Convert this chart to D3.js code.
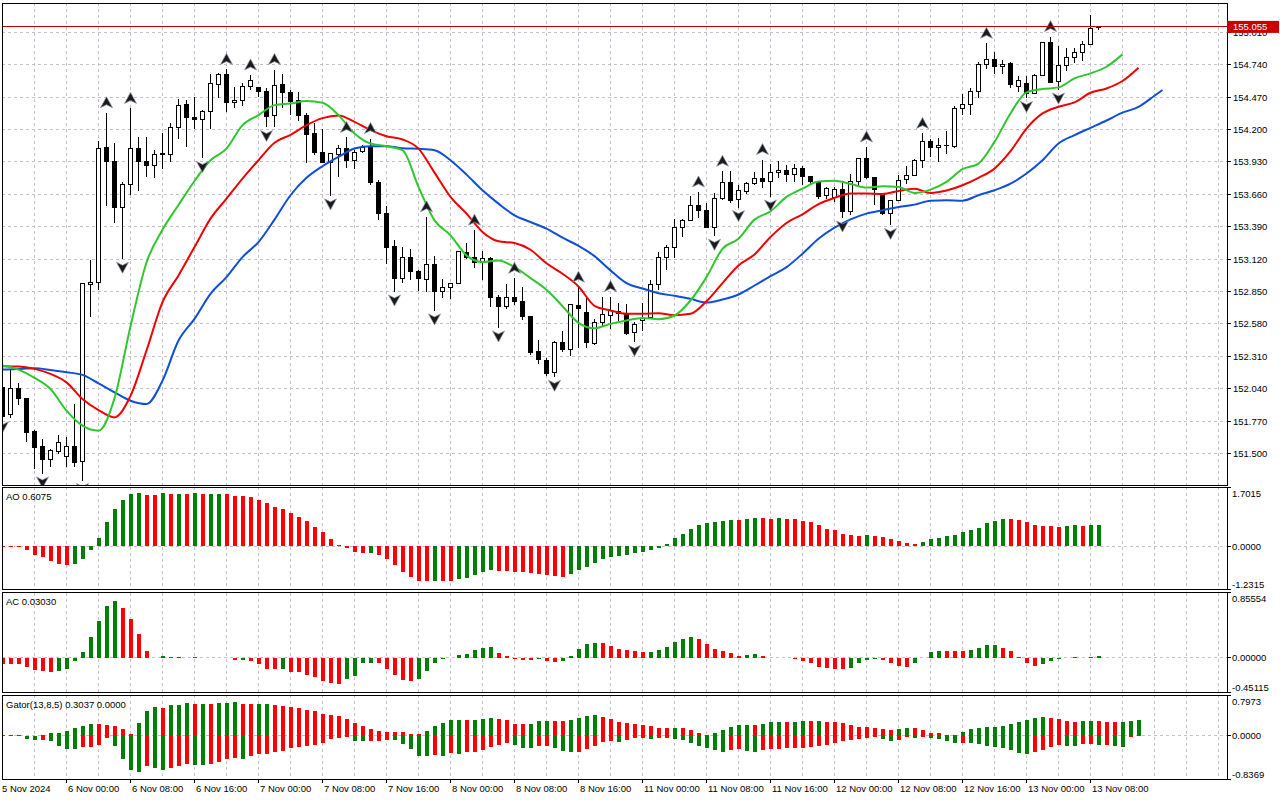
<!DOCTYPE html>
<html>
<head>
<meta charset="utf-8">
<script src="https://cdn.jsdelivr.net/npm/d3@7"></script>
<style>
  html, body { margin: 0; padding: 0; background: #fff; }
  svg { display: block; font-family: "Liberation Sans", Arial, sans-serif; font-size: 9.5px; }
</style>
</head>
<body>
<svg id="chart" width="1280" height="800"></svg>
<script>
// H1 candles, bar index 0 = 5 Nov 16:00
const openVals = [
  152.048,151.823,152.040,151.956,151.684,151.559,151.448,151.520,151.478,151.561,
  151.437,152.907,152.924,154.050,153.931,153.550,153.742,154.042,153.936,153.897,
  153.997,153.992,154.217,154.412,154.301,154.284,154.348,154.576,154.662,154.423,
  154.440,154.562,154.551,154.520,154.314,154.579,154.509,154.440,154.320,154.167,
  154.009,153.922,153.995,154.042,153.945,154.014,154.056,153.758,153.500,153.222,
  152.957,153.133,153.019,152.949,153.074,152.852,152.882,152.916,153.174,153.133,
  153.091,153.124,152.804,152.729,152.799,152.763,152.643,152.351,152.276,152.171,
  152.422,152.366,152.733,152.672,152.413,152.589,152.650,152.683,152.669,152.505,
  152.608,152.636,152.906,153.137,153.215,153.382,153.443,153.563,153.526,153.387,
  153.629,153.757,153.616,153.685,153.749,153.791,153.763,153.841,153.860,153.824,
  153.874,153.805,153.763,153.646,153.630,153.702,153.513,153.763,153.958,153.799,
  153.657,153.499,153.605,153.783,153.819,153.939,154.103,154.047,154.069,154.056,
  154.375,154.409,154.515,154.743,154.787,154.723,154.751,154.562,154.584,154.501,
  154.654,154.926,154.598,154.732,154.801,154.843,154.910,155.049
];
const highVals = [
  152.081,152.193,152.087,151.962,151.692,151.623,151.539,151.651,151.637,151.909,
  152.920,153.116,154.106,154.340,154.084,153.764,154.376,154.134,154.134,154.028,
  154.175,154.251,154.451,154.445,154.473,154.362,154.662,154.673,154.701,154.551,
  154.584,154.654,154.557,154.543,154.700,154.660,154.529,154.515,154.334,154.251,
  154.203,154.006,154.070,154.134,154.028,154.075,154.125,153.778,153.561,153.283,
  153.222,153.208,153.032,153.472,153.144,152.957,152.921,153.186,153.255,153.361,
  153.186,153.138,152.818,152.916,152.960,152.888,152.643,152.449,152.300,152.436,
  152.525,152.747,152.886,152.803,152.622,152.803,152.808,152.753,152.747,152.594,
  152.756,152.942,153.179,153.234,153.457,153.457,153.646,153.680,153.588,153.671,
  153.852,153.852,153.735,153.763,153.847,153.949,153.916,153.938,153.902,153.916,
  153.894,153.810,153.771,153.721,153.721,153.763,153.833,153.964,154.055,153.805,
  153.666,153.610,153.819,153.894,153.952,154.167,154.117,154.131,154.186,154.398,
  154.492,154.548,154.765,154.918,154.849,154.779,154.765,154.648,154.645,154.659,
  154.932,154.974,154.896,154.882,154.882,154.938,155.155,155.066
];
const lowVals = [
  151.790,151.798,151.901,151.595,151.372,151.330,151.386,151.492,151.386,151.386,
  151.275,152.638,152.860,153.564,153.425,153.119,153.653,153.689,153.806,153.797,
  153.875,153.931,154.117,154.056,154.203,153.959,154.203,154.459,154.348,154.376,
  154.398,154.529,154.473,154.217,154.223,154.376,154.320,154.273,153.922,153.986,
  153.917,153.647,153.806,153.883,153.875,154.006,153.736,153.450,153.083,152.846,
  152.921,152.949,152.854,152.846,152.688,152.799,152.790,152.916,153.119,153.049,
  152.949,152.721,152.546,152.707,152.735,152.610,152.318,152.248,152.143,152.135,
  152.344,152.316,152.380,152.380,152.408,152.552,152.539,152.603,152.491,152.427,
  152.525,152.630,152.859,153.026,153.131,153.304,153.437,153.465,153.387,153.310,
  153.610,153.588,153.549,153.666,153.735,153.716,153.638,153.799,153.763,153.763,
  153.735,153.749,153.624,153.624,153.596,153.463,153.485,153.721,153.791,153.574,
  153.490,153.401,153.602,153.749,153.811,153.880,153.972,153.930,153.994,154.047,
  154.320,154.320,154.459,154.704,154.659,154.659,154.548,154.509,154.459,154.501,
  154.648,154.584,154.529,154.687,154.751,154.771,154.904,155.029
];
const closeVals = [
  151.809,152.040,151.956,151.678,151.553,151.448,151.525,151.595,151.561,151.428,
  152.916,152.924,154.042,153.931,153.550,153.742,154.042,153.931,153.897,153.992,
  153.995,154.217,154.403,154.298,154.284,154.353,154.584,154.662,154.423,154.445,
  154.562,154.612,154.515,154.306,154.570,154.506,154.431,154.315,154.162,154.006,
  153.922,154.000,154.039,153.939,154.009,154.048,153.756,153.500,153.213,152.957,
  153.133,153.019,152.957,153.074,152.846,152.882,152.916,153.180,153.133,153.091,
  153.124,152.804,152.729,152.799,152.763,152.638,152.338,152.282,152.170,152.422,
  152.366,152.742,152.705,152.422,152.589,152.655,152.692,152.669,152.503,152.572,
  152.622,152.906,153.137,153.215,153.382,153.443,153.563,153.521,153.387,153.629,
  153.757,153.610,153.688,153.749,153.791,153.763,153.841,153.860,153.824,153.874,
  153.805,153.763,153.638,153.708,153.699,153.513,153.769,153.958,153.797,153.702,
  153.499,153.605,153.772,153.819,153.939,154.103,154.047,154.069,154.069,154.375,
  154.409,154.520,154.743,154.787,154.723,154.743,154.576,154.606,154.501,154.654,
  154.926,154.593,154.732,154.801,154.843,154.910,155.038,155.055
];
const lastPrice = 155.055;

// Fractal bar indices
const fractalUp = [13, 16, 28, 31, 34, 43, 46, 53, 59, 64, 72, 76, 87, 90, 95, 108, 115, 123, 131];
const fractalDown = [0, 5, 10, 15, 25, 33, 41, 49, 54, 62, 69, 79, 89, 92, 96, 105, 111, 128, 132];

// Alligator lines: [bar index, price]
const jawPts = [
  [0,152.199],[2,152.205],[4,152.210],[6,152.196],[8,152.177],[10,152.155],[12,152.085],[14,152.010],
  [16,151.940],[18,151.912],[20,152.107],[22,152.441],[24,152.622],[26,152.831],[28,152.970],[30,153.137],
  [32,153.262],[34,153.449],[36,153.652],[38,153.797],[40,153.894],[42,153.972],[44,154.041],[46,154.061],
  [48,154.061],[50,154.044],[52,154.039],[54,154.028],[56,153.944],[58,153.824],[60,153.694],[62,153.582],
  [64,153.485],[66,153.429],[68,153.374],[70,153.298],[72,153.231],[74,153.145],[76,153.026],[78,152.920],
  [80,152.875],[82,152.836],[84,152.814],[86,152.789],[88,152.758],[90,152.783],[92,152.825],[94,152.900],
  [96,152.978],[98,153.053],[100,153.165],[102,153.290],[104,153.382],[106,153.451],[108,153.499],[110,153.527],
  [112,153.554],[114,153.574],[116,153.607],[118,153.610],[120,153.607],[122,153.652],[124,153.694],[126,153.749],
  [128,153.833],[130,153.944],[132,154.083],[134,154.153],[136,154.214],[138,154.275],[140,154.340],[142,154.389],
  [144,154.481],[145,154.529]
];
const teethPts = [
  [0,152.227],[2,152.224],[4,152.205],[6,152.163],[8,152.093],[10,151.954],[12,151.862],[14,151.801],
  [16,151.980],[18,152.358],[20,152.761],[22,152.984],[24,153.220],[26,153.457],[28,153.624],[30,153.791],
  [32,153.944],[34,154.089],[36,154.156],[38,154.236],[40,154.295],[42,154.317],[44,154.264],[46,154.195],
  [48,154.144],[50,154.117],[52,154.041],[54,153.841],[56,153.638],[58,153.499],[60,153.346],[62,153.268],
  [64,153.254],[66,153.198],[68,153.085],[70,152.998],[72,152.892],[74,152.731],[76,152.692],[78,152.664],
  [80,152.664],[82,152.669],[84,152.653],[86,152.664],[88,152.769],[90,152.920],[92,153.067],[94,153.159],
  [96,153.304],[98,153.421],[100,153.493],[102,153.578],[104,153.630],[106,153.666],[108,153.666],[110,153.663],
  [112,153.688],[114,153.707],[116,153.671],[118,153.691],[120,153.735],[122,153.797],[124,153.874],[126,154.019],
  [128,154.208],[130,154.334],[132,154.389],[134,154.426],[136,154.506],[138,154.542],[140,154.604],[142,154.715]
];
const lipsPts = [
  [0,152.233],[2,152.199],[4,152.130],[6,152.038],[8,151.857],[10,151.732],[12,151.690],[14,151.960],
  [16,152.561],[18,153.092],[20,153.365],[22,153.571],[24,153.771],[26,153.944],[28,154.041],[30,154.236],
  [32,154.320],[34,154.403],[36,154.417],[38,154.437],[40,154.423],[42,154.320],[44,154.167],[46,154.083],
  [48,154.061],[50,154.028],[52,153.722],[54,153.443],[56,153.318],[58,153.151],[60,153.095],[62,153.109],
  [64,153.053],[66,152.962],[68,152.865],[70,152.728],[72,152.589],[74,152.544],[76,152.580],[78,152.608],
  [80,152.630],[82,152.619],[84,152.650],[86,152.775],[88,152.970],[90,153.206],[92,153.290],[94,153.449],
  [96,153.518],[98,153.638],[100,153.707],[102,153.767],[104,153.772],[106,153.746],[108,153.716],[110,153.727],
  [112,153.721],[114,153.671],[116,153.699],[118,153.763],[120,153.869],[122,153.916],[124,154.097],[126,154.334],
  [128,154.509],[130,154.537],[132,154.551],[134,154.626],[136,154.668],[138,154.723],[140,154.826]
];

// Awesome Oscillator
const aoVals = [
  -0.005,-0.010,-0.015,-0.10,-0.23,-0.29,-0.41,-0.49,-0.52,-0.50,
  -0.37,-0.10,0.25,0.69,1.08,1.33,1.49,1.52,1.47,1.46,
  1.52,1.49,1.495,1.49,1.52,1.49,1.495,1.50,1.49,1.44,
  1.43,1.41,1.32,1.23,1.14,1.08,0.96,0.84,0.72,0.57,
  0.40,0.22,0.04,-0.04,-0.16,-0.19,-0.18,-0.25,-0.37,-0.54,
  -0.72,-0.87,-0.99,-0.995,-0.98,-0.99,-1.00,-0.93,-0.90,-0.81,
  -0.72,-0.66,-0.69,-0.70,-0.72,-0.73,-0.75,-0.78,-0.81,-0.84,
  -0.87,-0.79,-0.66,-0.58,-0.46,-0.37,-0.31,-0.28,-0.23,-0.19,
  -0.16,-0.10,-0.04,0.06,0.23,0.37,0.49,0.60,0.66,0.69,
  0.73,0.76,0.755,0.79,0.81,0.805,0.79,0.81,0.80,0.78,
  0.73,0.69,0.60,0.51,0.46,0.37,0.34,0.31,0.34,0.31,
  0.28,0.22,0.16,0.10,0.07,0.13,0.22,0.25,0.31,0.34,
  0.40,0.46,0.54,0.66,0.73,0.78,0.775,0.75,0.69,0.60,
  0.598,0.597,0.57,0.585,0.60,0.59,0.60,0.6075
];

// Accelerator Oscillator
const acVals = [
  -0.083,-0.084,-0.085,-0.113,-0.157,-0.166,-0.179,-0.175,-0.139,-0.044,
  0.083,0.279,0.488,0.684,0.749,0.658,0.514,0.309,0.096,0.002,
  0.026,0.009,0.017,0.002,0.017,0.001,0.004,0.006,0.000,-0.030,
  -0.025,-0.044,-0.083,-0.139,-0.148,-0.146,-0.179,-0.187,-0.218,-0.244,
  -0.296,-0.331,-0.335,-0.279,-0.231,-0.070,-0.068,-0.072,-0.139,-0.227,
  -0.287,-0.305,-0.270,-0.166,-0.070,-0.017,0.002,0.039,0.057,0.109,
  0.135,0.137,0.070,0.026,-0.013,-0.020,-0.025,-0.018,-0.044,-0.057,
  -0.044,0.030,0.122,0.187,0.200,0.199,0.161,0.122,0.109,0.096,
  0.083,0.084,0.109,0.148,0.213,0.253,0.279,0.253,0.187,0.122,
  0.096,0.070,0.030,0.044,0.057,0.030,0.004,0.006,-0.002,-0.013,
  -0.044,-0.070,-0.113,-0.126,-0.139,-0.140,-0.126,-0.070,-0.030,-0.013,
  -0.026,-0.070,-0.100,-0.113,-0.070,0.000,0.083,0.096,0.095,0.094,
  0.093,0.109,0.135,0.174,0.175,0.135,0.096,0.017,-0.061,-0.100,
  -0.083,-0.044,-0.013,0.004,0.008,0.002,0.017,0.0303
];

// Gator oscillator: upper (jaw-teeth) and lower (teeth-lips) magnitudes
const gatorUp = [
  0.026,0.020,0.018,0.004,0.003,0.020,0.059,0.060,0.105,0.157,
  0.203,0.236,0.235,0.216,0.197,0.144,0.039,0.256,0.479,0.571,
  0.551,0.597,0.604,0.649,0.630,0.631,0.629,0.649,0.650,0.669,
  0.630,0.629,0.630,0.631,0.604,0.584,0.564,0.544,0.512,0.479,
  0.433,0.400,0.380,0.321,0.256,0.197,0.144,0.105,0.085,0.084,
  0.079,0.046,0.030,0.105,0.197,0.256,0.302,0.308,0.302,0.315,
  0.335,0.348,0.321,0.302,0.236,0.235,0.237,0.295,0.296,0.295,
  0.294,0.315,0.354,0.394,0.413,0.374,0.335,0.276,0.256,0.236,
  0.216,0.197,0.157,0.156,0.158,0.150,0.118,0.059,0.010,0.059,
  0.118,0.177,0.216,0.218,0.215,0.236,0.276,0.277,0.275,0.276,
  0.295,0.294,0.295,0.276,0.275,0.256,0.216,0.177,0.176,0.157,
  0.138,0.118,0.138,0.157,0.156,0.118,0.059,0.058,0.020,0.019,
  0.079,0.138,0.157,0.177,0.178,0.197,0.236,0.276,0.315,0.354,
  0.374,0.354,0.335,0.289,0.269,0.289,0.290,0.289,0.269,0.268,
  0.270,0.289,0.3037
];
const gatorDown = [
  0.005,0.004,0.003,0.052,0.072,0.070,0.105,0.197,0.256,0.257,
  0.223,0.210,0.171,0.033,0.190,0.453,0.669,0.702,0.590,0.623,
  0.663,0.623,0.590,0.553,0.556,0.560,0.538,0.505,0.446,0.433,
  0.446,0.394,0.354,0.341,0.308,0.289,0.243,0.223,0.197,0.177,
  0.131,0.060,0.040,0.015,0.092,0.105,0.092,0.091,0.072,0.073,
  0.157,0.249,0.387,0.390,0.374,0.394,0.328,0.348,0.321,0.320,
  0.269,0.210,0.171,0.131,0.171,0.230,0.231,0.197,0.196,0.230,
  0.289,0.308,0.307,0.249,0.190,0.112,0.092,0.112,0.072,0.039,
  0.033,0.052,0.033,0.030,0.060,0.072,0.131,0.190,0.230,0.269,
  0.308,0.269,0.249,0.289,0.308,0.269,0.249,0.248,0.230,0.229,
  0.228,0.210,0.190,0.171,0.131,0.092,0.072,0.052,0.033,0.013,
  0.052,0.092,0.072,0.013,0.033,0.012,0.034,0.052,0.092,0.131,
  0.130,0.131,0.151,0.190,0.210,0.230,0.269,0.328,0.348,0.308,
  0.269,0.210,0.171,0.197,0.199,0.157,0.156,0.184,0.183,0.197,
  0.216,0.015,0.000
];

// Axis ticks
const priceTicks = [155.010,154.740,154.470,154.200,153.930,153.660,153.390,153.120,152.850,152.580,152.310,152.040,151.770,151.500];
const dateTickIdx = [0, 8, 16, 24, 32, 40, 48, 56, 64, 72, 80, 88, 96, 104, 112, 120, 128, 136];
const dateTickLabels = ['5 Nov 2024','6 Nov 00:00','6 Nov 08:00','6 Nov 16:00','7 Nov 00:00','7 Nov 08:00',
  '7 Nov 16:00','8 Nov 00:00','8 Nov 08:00','8 Nov 16:00','11 Nov 00:00','11 Nov 08:00','11 Nov 16:00',
  '12 Nov 00:00','12 Nov 08:00','12 Nov 16:00','13 Nov 00:00','13 Nov 08:00'];
const aoTicks = [[1.7015,'1.7015'],[0,'0.0000'],[-1.2315,'-1.2315']];
const acTicks = [[0.85554,'0.85554'],[0,'0.00000'],[-0.45115,'-0.45115']];
const gatorTicks = [[0.7973,'0.7973'],[0,'0.0000'],[-0.8369,'-0.8369']];

// ---- layout ----
const axisX = 1227;
const leftX = 2;
const panels = {
    main: { top: 3, bottom: 485 },
    ao: { top: 487, bottom: 589.5 },
    ac: { top: 592.5, bottom: 692.5 },
    gator: { top: 695, bottom: 779 }
};
const GREEN = '#008000', RED = '#ff0000';
const GRID = '#c7bdcf';

const svg = d3.select('#chart');
svg.append('rect').attr('width', 1280).attr('height', 800).attr('fill', '#fff');

const x = d3.scaleLinear().domain([0, 153]).range([2.5, 1226.5]);
const yPrice = d3.scaleLinear().domain([151.5, 154.74]).range([453.5, 64.7]);
const yAO = d3.scaleLinear().domain([-1.2315, 1.7015]).range([panels.ao.bottom, panels.ao.top]);
const yAC = d3.scaleLinear().domain([-0.45115, 0.85554]).range([panels.ac.bottom, panels.ac.top]);
const yGator = d3.scaleLinear().domain([-0.8369, 0.7973]).range([panels.gator.bottom, panels.gator.top]);

// clip paths per panel
const defs = svg.append('defs');
Object.entries(panels).forEach(([k, p]) => {
    defs.append('clipPath').attr('id', 'clip-' + k)
        .append('rect').attr('x', leftX).attr('y', p.top)
        .attr('width', axisX - leftX).attr('height', p.bottom - p.top);
});

// vertical grid in every panel
const vGridIdx = d3.range(4, 153, 4);
Object.values(panels).forEach(p => {
    svg.append('g').selectAll('line').data(vGridIdx).join('line')
        .attr('x1', d => x(d)).attr('x2', d => x(d))
        .attr('y1', p.top).attr('y2', p.bottom)
        .attr('stroke', GRID).attr('stroke-dasharray', '3,3')
        .attr('shape-rendering', 'crispEdges');
});

// horizontal grid of price panel
svg.append('g').selectAll('line').data(priceTicks).join('line')
    .attr('x1', leftX).attr('x2', axisX)
    .attr('y1', d => yPrice(d)).attr('y2', d => yPrice(d))
    .attr('stroke', GRID).attr('stroke-dasharray', '3,3')
    .attr('shape-rendering', 'crispEdges');

// zero lines of oscillators
[yAO, yAC, yGator].forEach(ys => {
    svg.append('line')
        .attr('x1', leftX).attr('x2', axisX).attr('y1', ys(0)).attr('y2', ys(0))
        .attr('stroke', GRID).attr('stroke-dasharray', '3,3')
        .attr('shape-rendering', 'crispEdges');
});

// ---- candles ----
const candles = openVals.map((o, i) => ({ i, o, h: highVals[i], l: lowVals[i], c: closeVals[i] }));
const gMain = svg.append('g').attr('clip-path', 'url(#clip-main)');

gMain.append('g').selectAll('line').data(candles).join('line')
    .attr('x1', d => x(d.i)).attr('x2', d => x(d.i))
    .attr('y1', d => yPrice(d.h)).attr('y2', d => yPrice(d.l))
    .attr('stroke', '#000').attr('shape-rendering', 'crispEdges');

gMain.append('g').selectAll('rect').data(candles).join('rect')
    .attr('x', d => x(d.i) - 2)
    .attr('width', 4)
    .attr('y', d => yPrice(Math.max(d.o, d.c)))
    .attr('height', d => Math.max(0.01, Math.abs(yPrice(d.o) - yPrice(d.c))))
    .attr('fill', d => d.c > d.o ? '#fff' : '#000')
    .attr('stroke', '#000')
    .attr('shape-rendering', 'crispEdges');

// ---- alligator ----
const line = d3.line().x(d => x(d[0])).y(d => yPrice(d[1])).curve(d3.curveMonotoneX);
[[jawPts, '#0f4fd6'], [teethPts, '#f00000'], [lipsPts, '#2ec82e']].forEach(([pts, col]) => {
    gMain.append('path').datum(pts)
        .attr('d', line).attr('fill', 'none')
        .attr('stroke', col).attr('stroke-width', 2)
        .attr('stroke-linejoin', 'round');
});

// ---- fractals ----
const arrowUp = 'M0,-6 L6,5 L0,2 L-6,5 Z';
const arrowDown = 'M0,6 L6,-5 L0,-2 L-6,-5 Z';
gMain.append('g').selectAll('path').data(fractalUp).join('path')
    .attr('d', arrowUp)
    .attr('transform', i => `translate(${x(i)},${yPrice(highVals[i]) - 10})`)
    .attr('fill', '#1a1a1a').attr('stroke', '#8a97a8').attr('stroke-width', 0.7);
gMain.append('g').selectAll('path').data(fractalDown).join('path')
    .attr('d', arrowDown)
    .attr('transform', i => `translate(${x(i)},${yPrice(lowVals[i]) + 8})`)
    .attr('fill', '#1a1a1a').attr('stroke', '#8a97a8').attr('stroke-width', 0.7);

// current price line
svg.append('line')
    .attr('x1', leftX).attr('x2', axisX)
    .attr('y1', yPrice(lastPrice)).attr('y2', yPrice(lastPrice))
    .attr('stroke', '#c00000').attr('shape-rendering', 'crispEdges');

// ---- oscillators ----
function histogram(vals, ys, clipId) {
    const g = svg.append('g').attr('clip-path', `url(#${clipId})`);
    g.selectAll('rect').data(vals).join('rect')
        .attr('x', (d, i) => x(i) - 2)
        .attr('width', 4)
        .attr('y', d => Math.min(ys(d), ys(0)))
        .attr('height', d => Math.abs(ys(d) - ys(0)))
        .attr('fill', (d, i) => (i > 0 && d > vals[i - 1]) ? GREEN : RED)
        .attr('shape-rendering', 'crispEdges');
}
histogram(aoVals, yAO, 'clip-ao');
histogram(acVals, yAC, 'clip-ac');

const gGator = svg.append('g').attr('clip-path', 'url(#clip-gator)');
gGator.selectAll('rect.up').data(gatorUp).join('rect').attr('class', 'up')
    .attr('x', (d, i) => x(i) - 2).attr('width', 4)
    .attr('y', d => yGator(d)).attr('height', d => yGator(0) - yGator(d))
    .attr('fill', (d, i) => (i > 0 && d > gatorUp[i - 1]) ? GREEN : RED)
    .attr('shape-rendering', 'crispEdges');
gGator.selectAll('rect.down').data(gatorDown).join('rect').attr('class', 'down')
    .attr('x', (d, i) => x(i) - 2).attr('width', 4)
    .attr('y', yGator(0)).attr('height', d => yGator(-d) - yGator(0))
    .attr('fill', (d, i) => (i > 0 && d > gatorDown[i - 1]) ? GREEN : RED)
    .attr('shape-rendering', 'crispEdges');

// ---- frames ----
Object.values(panels).forEach(p => {
    svg.append('rect')
        .attr('x', leftX).attr('y', p.top)
        .attr('width', axisX - leftX).attr('height', p.bottom - p.top)
        .attr('fill', 'none').attr('stroke', '#000')
        .attr('shape-rendering', 'crispEdges');
});

// ---- price axis ----
const gAxis = svg.append('g');
priceTicks.forEach(t => {
    const y = yPrice(t);
    gAxis.append('line').attr('x1', axisX).attr('x2', axisX + 4).attr('y1', y).attr('y2', y)
        .attr('stroke', '#000').attr('shape-rendering', 'crispEdges');
    gAxis.append('text').attr('x', axisX + 6).attr('y', y + 3.5).text(t.toFixed(3));
});

// oscillator axes: top label hangs below edge, bottom label sits above edge
function oscAxis(ticks, ys, p) {
    ticks.forEach(([v, label], k) => {
        const y = ys(v);
        gAxis.append('line').attr('x1', axisX).attr('x2', axisX + 4).attr('y1', y).attr('y2', y)
            .attr('stroke', '#000').attr('shape-rendering', 'crispEdges');
        const ty = k === 0 ? p.top + 9.5 : (k === 2 ? p.bottom - 1.5 : y + 3.5);
        gAxis.append('text').attr('x', axisX + 5).attr('y', ty).text(label);
    });
}
oscAxis(aoTicks, yAO, panels.ao);
oscAxis(acTicks, yAC, panels.ac);
oscAxis(gatorTicks, yGator, panels.gator);

// current price tag (covers the upper half of the 155.010 label, as in the terminal)
const tagY = yPrice(lastPrice);
svg.append('rect').attr('x', axisX).attr('y', tagY - 6).attr('width', 52).attr('height', 12)
    .attr('fill', '#c80000');
svg.append('text').attr('x', axisX + 6).attr('y', tagY + 3.5).attr('fill', '#fff')
    .text(lastPrice.toFixed(3));

// ---- time axis ----
dateTickIdx.forEach((idx, k) => {
    const xx = x(idx);
    if (k > 0) {
        svg.append('line').attr('x1', xx).attr('x2', xx)
            .attr('y1', panels.gator.bottom).attr('y2', panels.gator.bottom + 4)
            .attr('stroke', '#000').attr('shape-rendering', 'crispEdges');
    }
    svg.append('text').attr('x', k === 0 ? 2 : xx + 1.5).attr('y', 792).text(dateTickLabels[k]);
});

// ---- indicator titles ----
svg.append('text').attr('x', 6).attr('y', 500).text('AO 0.6075');
svg.append('text').attr('x', 6).attr('y', 605).text('AC 0.03030');
svg.append('text').attr('x', 6).attr('y', 708).text('Gator(13,8,5) 0.3037 0.0000');
</script>
</body>
</html>
